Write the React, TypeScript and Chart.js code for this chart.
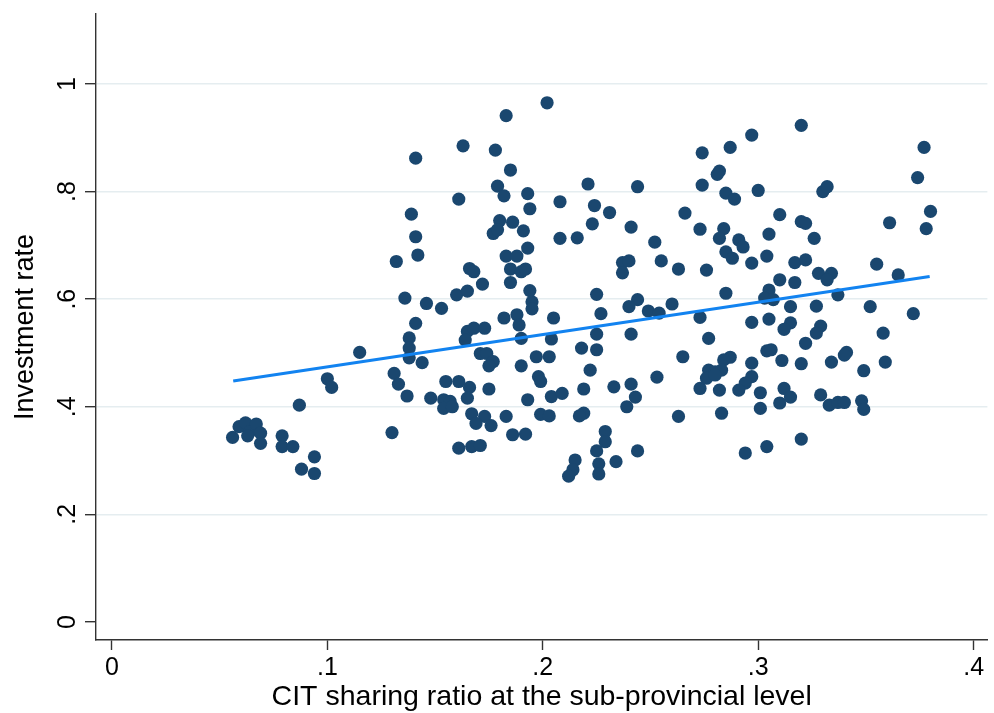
import React, { useEffect, useRef } from "react";
import { Chart, registerables } from "chart.js";

Chart.register(...registerables);

// CIT sharing ratio at the sub-provincial level (x) for each observation
const shareRatio = [
  0.056, 0.059, 0.062, 0.064, 0.067, 0.069, 0.069, 0.063, 0.079, 0.079, 0.084, 0.087, 0.094, 0.088, 0.094,
  0.100, 0.102, 0.115, 0.138, 0.138, 0.138, 0.131, 0.133, 0.137, 0.130, 0.141, 0.136, 0.132, 0.142, 0.141,
  0.139, 0.141, 0.144, 0.146, 0.153, 0.148, 0.154, 0.157, 0.154, 0.158, 0.155, 0.161, 0.166, 0.165, 0.167,
  0.173, 0.169, 0.176, 0.161, 0.167, 0.171, 0.175, 0.183, 0.186, 0.192, 0.193, 0.204, 0.199, 0.203, 0.198,
  0.199, 0.197, 0.203, 0.190, 0.190, 0.204, 0.171, 0.174, 0.177, 0.175, 0.165, 0.168, 0.173, 0.164, 0.182,
  0.188, 0.189, 0.205, 0.195, 0.195, 0.160, 0.165, 0.172, 0.185, 0.194, 0.166, 0.168, 0.185, 0.190, 0.192,
  0.183, 0.188, 0.193, 0.208, 0.180, 0.186, 0.191, 0.177, 0.179, 0.193, 0.194, 0.179, 0.182, 0.185, 0.178,
  0.163, 0.161, 0.183, 0.202, 0.208, 0.221, 0.244, 0.274, 0.274, 0.224, 0.231, 0.266, 0.223, 0.216, 0.241,
  0.273, 0.252, 0.237, 0.240, 0.237, 0.255, 0.263, 0.276, 0.225, 0.244, 0.240, 0.260, 0.249, 0.254, 0.273,
  0.227, 0.225, 0.241, 0.277, 0.218, 0.225, 0.265, 0.222, 0.253, 0.233, 0.241, 0.243, 0.239, 0.219, 0.209,
  0.273, 0.219, 0.217, 0.263, 0.229, 0.229, 0.225, 0.244, 0.215, 0.214, 0.212, 0.226, 0.226, 0.234, 0.320,
  0.297, 0.287, 0.282, 0.281, 0.300, 0.330, 0.332, 0.285, 0.289, 0.310, 0.320, 0.322, 0.284, 0.282, 0.305,
  0.291, 0.293, 0.326, 0.285, 0.288, 0.304, 0.297, 0.317, 0.322, 0.328, 0.334, 0.332, 0.310, 0.317, 0.285,
  0.305, 0.303, 0.307, 0.337, 0.315, 0.327, 0.297, 0.305, 0.315, 0.312, 0.329, 0.327, 0.322, 0.304, 0.306,
  0.341, 0.340, 0.287, 0.284, 0.297, 0.311, 0.320, 0.334, 0.277, 0.280, 0.283, 0.276, 0.280, 0.297, 0.294,
  0.291, 0.282, 0.301, 0.312, 0.315, 0.310, 0.329, 0.333, 0.337, 0.340, 0.283, 0.301, 0.320, 0.304, 0.294,
  0.377, 0.374, 0.380, 0.378, 0.361, 0.355, 0.365, 0.352, 0.372, 0.358, 0.349, 0.359, 0.348, 0.349,
];

// Investment rate (y) for each observation
const investmentRate = [
  0.343, 0.363, 0.370, 0.354, 0.368, 0.351, 0.332, 0.346, 0.346, 0.326, 0.326, 0.403, 0.307, 0.284, 0.276,
  0.452, 0.436, 0.501, 0.528, 0.509, 0.491, 0.462, 0.442, 0.420, 0.352, 0.555, 0.602, 0.670, 0.682, 0.716,
  0.758, 0.862, 0.482, 0.592, 0.583, 0.416, 0.413, 0.410, 0.397, 0.400, 0.447, 0.447, 0.436, 0.416, 0.387,
  0.382, 0.369, 0.365, 0.323, 0.326, 0.328, 0.433, 0.382, 0.348, 0.349, 0.413, 0.419, 0.386, 0.383, 0.456,
  0.447, 0.493, 0.493, 0.476, 0.527, 0.526, 0.499, 0.499, 0.484, 0.476, 0.540, 0.546, 0.546, 0.524, 0.565,
  0.571, 0.552, 0.565, 0.595, 0.582, 0.608, 0.615, 0.628, 0.631, 0.616, 0.657, 0.651, 0.656, 0.651, 0.656,
  0.680, 0.680, 0.695, 0.713, 0.746, 0.743, 0.727, 0.722, 0.729, 0.796, 0.768, 0.810, 0.792, 0.840, 0.877,
  0.885, 0.786, 0.941, 0.965, 0.781, 0.814, 0.809, 0.872, 0.812, 0.774, 0.761, 0.760, 0.740, 0.714, 0.734,
  0.730, 0.706, 0.668, 0.671, 0.649, 0.671, 0.656, 0.654, 0.609, 0.599, 0.586, 0.591, 0.578, 0.574, 0.566,
  0.573, 0.535, 0.535, 0.527, 0.509, 0.506, 0.493, 0.468, 0.455, 0.437, 0.442, 0.418, 0.400, 0.433, 0.425,
  0.434, 0.388, 0.383, 0.382, 0.354, 0.335, 0.318, 0.318, 0.301, 0.283, 0.271, 0.294, 0.275, 0.298, 0.923,
  0.905, 0.882, 0.838, 0.832, 0.802, 0.800, 0.809, 0.797, 0.786, 0.757, 0.744, 0.741, 0.731, 0.713, 0.721,
  0.710, 0.697, 0.713, 0.688, 0.676, 0.680, 0.667, 0.668, 0.673, 0.648, 0.648, 0.636, 0.636, 0.631, 0.611,
  0.617, 0.602, 0.599, 0.608, 0.586, 0.587, 0.557, 0.563, 0.556, 0.544, 0.550, 0.537, 0.518, 0.504, 0.506,
  0.501, 0.496, 0.492, 0.487, 0.481, 0.486, 0.480, 0.483, 0.468, 0.465, 0.468, 0.453, 0.459, 0.456, 0.444,
  0.431, 0.431, 0.426, 0.434, 0.418, 0.407, 0.422, 0.403, 0.408, 0.408, 0.388, 0.397, 0.340, 0.326, 0.314,
  0.882, 0.826, 0.763, 0.731, 0.742, 0.665, 0.645, 0.586, 0.573, 0.537, 0.467, 0.483, 0.411, 0.395,
];

// Linear fit line end points
const fitX = [0.0563, 0.3796];
const fitY = [0.448, 0.642];

// Axis ticks
const xTicks = [0, 0.1, 0.2, 0.3, 0.4];
const xTickLabels = ["0", ".1", ".2", ".3", ".4"];
const yTicks = [0, 0.2, 0.4, 0.6, 0.8, 1];
const yTickLabels = ["0", ".2", ".4", ".6", ".8", "1"];

const xTitle = "CIT sharing ratio at the sub-provincial level";
const yTitle = "Investment rate";

const FONT = '"Liberation Sans", Arial, Helvetica, sans-serif';
const AXIS_COLOR = "#333333";

export default function App() {
  const canvasRef = useRef<HTMLCanvasElement | null>(null);

  useEffect(() => {
    const canvas = canvasRef.current;
    if (!canvas) return;

    const textPlugin = {
      id: "stataText",
      afterDraw(chart: any) {
        const { ctx, scales, chartArea } = chart;
        const xs = scales.x;
        const ys = scales.y;
        ctx.save();
        ctx.fillStyle = "#000";
        ctx.textAlign = "center";
        ctx.textBaseline = "middle";
        ctx.font = `25px ${FONT}`;
        xTicks.forEach((v, i) => {
          ctx.fillText(xTickLabels[i], xs.getPixelForValue(v), 668);
        });
        yTicks.forEach((v, i) => {
          ctx.save();
          ctx.translate(68, ys.getPixelForValue(v));
          ctx.rotate(-Math.PI / 2);
          ctx.fillText(yTickLabels[i], 0, 0);
          ctx.restore();
        });
        ctx.font = `28.5px ${FONT}`;
        ctx.fillText(xTitle, (chartArea.left + chartArea.right) / 2, 697);
        ctx.font = `27px ${FONT}`;
        ctx.save();
        ctx.translate(26, (chartArea.top + chartArea.bottom) / 2);
        ctx.rotate(-Math.PI / 2);
        ctx.fillText(yTitle, 0, 0);
        ctx.restore();
        ctx.restore();
      },
    };

    const points = shareRatio.map((x, i) => ({ x, y: investmentRate[i] }));
    const fit = fitX.map((x, i) => ({ x, y: fitY[i] }));

    const chart = new Chart(canvas, {
      type: "scatter",
      data: {
        datasets: [
          {
            type: "line",
            data: fit,
            borderColor: "#1283f0",
            borderWidth: 3,
            pointRadius: 0,
            fill: false,
            order: 0,
          } as any,
          {
            type: "scatter",
            data: points,
            backgroundColor: "#1a476f",
            borderColor: "#1a476f",
            borderWidth: 0,
            pointRadius: 6.6,
            order: 1,
          },
        ],
      },
      options: {
        responsive: false,
        animation: false,
        devicePixelRatio: 1,
        layout: { padding: { left: 0, right: 1, top: 14, bottom: 0 } },
        plugins: {
          legend: { display: false },
          tooltip: { enabled: false },
        },
        scales: {
          x: {
            type: "linear",
            min: -0.0074,
            max: 0.4064,
            afterBuildTicks: (scale: any) => {
              scale.ticks = xTicks.map((v) => ({ value: v }));
            },
            afterFit: (scale: any) => {
              scale.height = 73;
            },
            ticks: { display: false },
            grid: {
              drawOnChartArea: false,
              drawTicks: true,
              tickLength: 10,
              tickColor: AXIS_COLOR,
              tickWidth: 1.4,
            },
            border: { display: true, color: AXIS_COLOR, width: 1.4 },
          },
          y: {
            type: "linear",
            min: -0.0335,
            max: 1.13,
            afterBuildTicks: (scale: any) => {
              scale.ticks = yTicks.map((v) => ({ value: v }));
            },
            afterFit: (scale: any) => {
              scale.width = 96;
            },
            ticks: { display: false },
            grid: {
              drawOnChartArea: true,
              drawTicks: true,
              tickLength: 11,
              color: (ctx: any) =>
                ctx.tick && ctx.tick.value === 0 ? "rgba(0,0,0,0)" : "#e5edf0",
              lineWidth: 1.4,
              tickColor: AXIS_COLOR,
              tickWidth: 1.4,
            },
            border: { display: true, color: AXIS_COLOR, width: 1.4 },
          },
        },
      },
      plugins: [textPlugin],
    });

    return () => {
      chart.destroy();
    };
  }, []);

  return (
    <div style={{ position: "absolute", left: 0, top: 0, width: 994, height: 713, background: "#fff" }}>
      <canvas ref={canvasRef} width={994} height={713} style={{ display: "block" }} />
    </div>
  );
}
